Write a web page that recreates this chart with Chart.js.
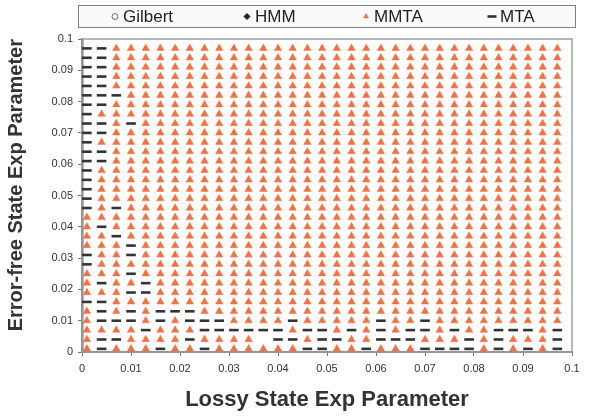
<!DOCTYPE html>
<html>
<head>
<meta charset="utf-8">
<script src="https://cdn.jsdelivr.net/npm/chart.js@4.4.1/dist/chart.umd.min.js"></script>
<style>
  html, body { margin: 0; padding: 0; background: #fff; }
  #wrap { position: relative; width: 589px; height: 417px; }
</style>
</head>
<body>
<div id="wrap"><canvas id="chart" width="589" height="417"></canvas></div>
<script>
// grid of parameter values (lossy state = x, error-free state = y)
const lossyValues = [0.001, 0.004, 0.007, 0.010, 0.013, 0.016, 0.019, 0.022, 0.025, 0.028, 0.031,
  0.034, 0.037, 0.040, 0.043, 0.046, 0.049, 0.052, 0.055, 0.058, 0.061, 0.064,
  0.067, 0.070, 0.073, 0.076, 0.079, 0.082, 0.085, 0.088, 0.091, 0.094, 0.097];
const errorFreeValues = [0.097, 0.094, 0.091, 0.088, 0.085, 0.082, 0.079, 0.076, 0.073, 0.070, 0.067,
  0.064, 0.061, 0.058, 0.055, 0.052, 0.049, 0.046, 0.043, 0.040, 0.037, 0.034,
  0.031, 0.028, 0.025, 0.022, 0.019, 0.016, 0.013, 0.010, 0.007, 0.004, 0.001];

// best model per cell, one row per errorFreeValues entry (top row first)
// T = MMTA, - = MTA, . = nothing drawn; rows are padded with MMTA on the right
const winnerRows = [
  "--",
  "--",
  "--",
  "--",
  "--",
  "---",
  "--",
  "-T",
  "--T-",
  "--",
  "-T",
  "--",
  "--",
  "-T",
  "-T",
  "-T",
  "-T",
  "-T-",
  "",
  "T-",
  "TT-",
  "TTT-",
  "-TT-",
  "-",
  "TTT-",
  "T-TT-",
  "TTT--",
  "--",
  "T-T-T---",
  "T---T-T---TTTT-TTTTT-TT-",
  "TTTT-TTT------T--T-T-T--T-TT---T-",
  "T--TTTT-TTTT.--T--TT---TTT-T-TTT-",
  "T-TTT-TT-TTTTTT--TT-TTT----T-T-T-"
];

const seriesNames = ["Gilbert", "HMM", "MMTA", "MTA"];
const seriesCodes = ["G", "H", "T", "-"];

const xTicks = [0, 0.01, 0.02, 0.03, 0.04, 0.05, 0.06, 0.07, 0.08, 0.09, 0.1];
const yTicks = [0, 0.01, 0.02, 0.03, 0.04, 0.05, 0.06, 0.07, 0.08, 0.09, 0.1];

function pointsFor(code) {
  const pts = [];
  winnerRows.forEach((row, r) => {
    const full = row.padEnd(lossyValues.length, "T");
    for (let c = 0; c < lossyValues.length; c++) {
      if (full[c] === code) pts.push({ x: lossyValues[c], y: errorFreeValues[r] });
    }
  });
  return pts;
}

const styles = {
  Gilbert: { pointStyle: "circle", radius: 3, backgroundColor: "#fff", borderColor: "#7a5a9a", borderWidth: 1 },
  HMM: { pointStyle: "rectRot", radius: 3, backgroundColor: "#222", borderColor: "#222", borderWidth: 1 },
  MMTA: { pointStyle: "triangle", radius: 4.3, backgroundColor: "#f07244", borderColor: "#f07244", borderWidth: 0.5 },
  MTA: { pointStyle: "line", radius: 4.8, backgroundColor: "#333", borderColor: "#333", borderWidth: 2.6 }
};

const datasets = seriesNames.map((name, i) => {
  const s = styles[name];
  return {
    label: name,
    data: pointsFor(seriesCodes[i]),
    pointStyle: s.pointStyle,
    pointRadius: s.radius,
    pointBackgroundColor: s.backgroundColor,
    pointBorderColor: s.borderColor,
    pointBorderWidth: s.borderWidth,
    showLine: false
  };
});

const fmt = v => String(Number(v.toFixed(3)));
const font = "'Liberation Sans', Arial, sans-serif";

// frame around plot + boxed legend on top
const framePlugin = {
  id: "frame",
  beforeDatasetsDraw(chart) {
    const { ctx, chartArea: a } = chart;
    ctx.save();
    ctx.strokeStyle = "#a0a0a0";
    ctx.lineWidth = 1.5;
    ctx.strokeRect(a.left, a.top, a.right - a.left, a.bottom - a.top);
    ctx.restore();
  },
  afterDraw(chart) {
    const ctx = chart.ctx;
    const box = { x: 78.5, y: 5.5, w: 497, h: 22 };
    const itemX = [115, 247, 366, 492];
    const cy = box.y + box.h / 2;
    ctx.save();
    ctx.fillStyle = "#fafafa";
    ctx.fillRect(box.x, box.y, box.w, box.h);
    ctx.strokeStyle = "#808080";
    ctx.lineWidth = 1;
    ctx.strokeRect(box.x, box.y, box.w, box.h);
    chart.data.datasets.forEach((ds, i) => {
      const r = ds.label === "MTA" ? 4.5 : 3;
      ctx.fillStyle = ds.pointBackgroundColor;
      ctx.strokeStyle = ds.pointBorderColor;
      ctx.lineWidth = ds.pointBorderWidth;
      Chart.helpers.drawPoint(ctx, { pointStyle: ds.pointStyle, radius: r, borderWidth: ds.pointBorderWidth }, itemX[i], cy);
      ctx.font = "17px " + font;
      ctx.textBaseline = "middle";
      ctx.fillStyle = "#222";
      ctx.fillText(ds.label, itemX[i] + 8, cy + 1);
    });
    ctx.restore();
  }
};

new Chart(document.getElementById("chart"), {
  type: "scatter",
  data: { datasets: datasets },
  options: {
    responsive: false,
    animation: false,
    devicePixelRatio: 1,
    layout: { padding: { top: 39, right: 17, left: 0, bottom: 0 } },
    plugins: { legend: { display: false }, tooltip: { enabled: false } },
    scales: {
      x: {
        type: "linear",
        min: 0,
        max: 0.1,
        afterBuildTicks: scale => { scale.ticks = xTicks.map(v => ({ value: v })); },
        afterFit: scale => { scale.height = 65; },
        ticks: { callback: fmt, color: "#333", font: { family: font, size: 11 }, maxRotation: 0, padding: 6 },
        grid: { drawOnChartArea: false, drawTicks: true, tickLength: 4, color: "#777", lineWidth: 1 },
        border: { color: "#777", width: 2 },
        title: { display: true, text: "Lossy State Exp Parameter", color: "#333", font: { family: font, size: 22, weight: "bold" }, padding: { top: 5 } }
      },
      y: {
        type: "linear",
        min: 0,
        max: 0.1,
        afterBuildTicks: scale => { scale.ticks = yTicks.map(v => ({ value: v })); },
        afterFit: scale => { scale.width = 82; },
        ticks: { callback: fmt, color: "#333", font: { family: font, size: 11 }, padding: 5 },
        grid: { drawOnChartArea: false, drawTicks: true, tickLength: 4, color: "#777", lineWidth: 1 },
        border: { color: "#777", width: 2.5 },
        title: { display: true, align: "end", text: "Error-free State Exp Parameter", color: "#333", font: { family: font, size: 20, weight: "bold" }, padding: { bottom: 2 } }
      }
    }
  },
  plugins: [framePlugin]
});
</script>
</body>
</html>
